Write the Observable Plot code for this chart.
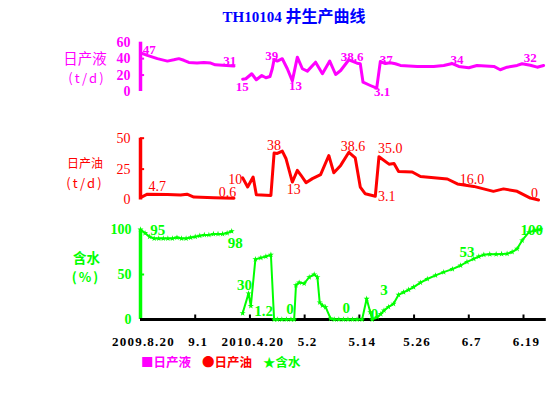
<!DOCTYPE html>
<html><head><meta charset="utf-8">
<script src="https://cdn.jsdelivr.net/npm/d3@7"></script>
<script src="https://cdn.jsdelivr.net/npm/@observablehq/plot@0.6"></script>
<style>
html,body{margin:0;padding:0;background:#fff;}
#wrap{position:relative;width:553px;height:417px;overflow:hidden;background:#fff;}
#wrap svg{position:absolute;left:0;top:0;}
.t{position:absolute;white-space:nowrap;transform:translate(-50%,-50%);line-height:1;}
g[aria-label="x-axis tick label"] text{letter-spacing:1.2px;}
g[aria-label="liq-labels"] text{letter-spacing:1.5px;}
g[aria-label="oil-labels"] text{letter-spacing:1px;}
</style></head><body><div id="wrap"></div>
<script>
// ---- data ----
const tickDays = [0, 12, 24, 36, 48, 60, 72, 84];
const tickLabels = ["2009.8.20", "9.1", "2010.4.20", "5.2", "5.14", "5.26", "6.7", "6.19"];

// daily liquid production (t/d): [day index, value]
const liquid = [[0,47],[1.5,44],[3.7,40],[5.9,37],[7.3,38.6],[8.4,40],[9.5,38],[10.6,35.4],[12.4,34.6],[13.9,35.4],[15.4,34.6],[16.4,32.5],[20.5,31],[21.5,NaN],
  [22.4,15],[23.1,15.5],[24.4,21.6],[25.4,14.3],[26.6,19.5],[27.5,16.7],[28.4,18.3],[28.9,27.7],[29.3,39],[30,37],[31.1,39.9],[32.2,27.7],[33.3,13],[34.4,41.8],[35.5,27.7],[36.6,24.8],[38.4,35.7],[39.9,21.6],[41.5,37],[42.8,20.7],[43.9,25.6],[45.7,38.6],[47.5,34.5],[48.2,33.8],[48.8,11.3],[50.4,7.3],[51.8,4],[52.6,36.5],[53.7,34],[54.8,35],[55.9,33.8],[57,31.7],[60.7,30.5],[64.3,30.5],[66.5,31.7],[68.4,34],[69.8,30.5],[72,28.9],[73.8,31.7],[77.5,30.5],[78.9,26.5],[80.4,29.6],[82.6,31.7],[83.7,33.8],[85.5,32],[87,29.6],[88.4,31.7]];

// daily oil production (t/d)
const oil = [[0,2],[1.5,4.7],[5.9,4.5],[8.8,4],[10.2,4.7],[11.7,2.4],[16.1,1.8],[20.5,1.5],[21.5,NaN],
  [22.4,18],[23.5,10.5],[24.7,18.6],[25.4,4.2],[28.6,3.7],[29.3,38],[30,37.7],[31.1,39.6],[31.9,33.6],[33.3,14.5],[34.4,24],[35.2,20],[36.3,14],[37.7,17.3],[39.5,20.6],[41.3,36],[42.4,22],[43.9,28],[45.7,38.6],[47.1,34],[48.2,10.5],[49.3,5],[51.5,3.1],[52.3,35],[54.5,29],[55.6,29.5],[56.6,23],[59.6,22.7],[61.4,19],[67.3,17],[69.5,13],[73.1,11],[77.4,7],[79.6,9],[82.6,7],[85.5,1.5],[87.3,0]];

// water cut (%)
const water = [[0,100],[1,96],[2,92],[3,90],[4,90],[5,90],[6,90],[7,90],[8,91],[9,90],[10,90],[11,91],[12,92],[13,93],[14,94],[15,94],[16,95],[17,95],[18,95],[19,96],[20,98],[21,NaN],
  [22.4,7],[23.7,29],[24.2,15],[25.2,67],[26.4,68.5],[27.5,70],[28.6,72],[29.3,0],[30,0],[31,0],[32,0],[33,0],[33.7,0],[34.1,38],[34.8,41],[35.9,40],[37,47],[38.1,50],[38.8,47],[39.3,19],[39.9,15.5],[40.6,13.7],[41.7,1],[42.5,0],[43.5,0],[44.5,0],[45.5,0],[46.5,0],[47.5,0],[48.6,0],[49.6,23],[50.4,8],[50.8,0],[51.9,2.6],[52.7,6],[53.4,10],[54.4,14],[55.5,17.4],[56.6,27.4],[57.7,30.3],[58.8,33],[59.9,36],[61.4,41],[62.9,45],[64.7,49],[66.5,52.6],[68.4,56],[70.2,60],[71.6,64],[73.1,67.4],[74.2,70],[75.3,72],[76.6,72.5],[78,72.5],[79.2,72.8],[80.4,73],[81.5,75],[82.6,78.5],[83.7,87.8],[85.2,97],[86.5,99],[87.7,100]];

const liqLabels = [
  {day:1.9,val:51.2,text:"47"},{day:19.6,val:37.8,text:"31"},{day:22.3,val:6.1,text:"15"},
  {day:28.8,val:43.3,text:"39"},{day:34.0,val:7.3,text:"13"},{day:46.4,val:42.7,text:"38.6"},
  {day:53.9,val:39.0,text:"37"},{day:53.0,val:-0.6,text:"3.1"},{day:69.4,val:39.0,text:"34"},
  {day:85.5,val:40.9,text:"32"}];
const oilLabels = [
  {day:3.7,val:11.0,text:"4.7"},{day:19.1,val:6.4,text:"0.6"},{day:20.8,val:16.7,text:"10"},
  {day:29.3,val:43.7,text:"38"},{day:33.6,val:8.4,text:"13"},{day:46.6,val:43.1,text:"38.6"},
  {day:54.8,val:41.4,text:"35.0"},{day:54.0,val:2.7,text:"3.1"},{day:72.7,val:16.6,text:"16.0"},
  {day:86.4,val:5.1,text:"0"}];
const waterLabels = [
  {day:3.8,val:99.2,text:"95"},{day:20.8,val:85.3,text:"98"},{day:22.8,val:37.8,text:"30"},
  {day:27.0,val:9.1,text:"1.2"},{day:32.8,val:11.3,text:"0"},{day:45.1,val:13,text:"0"},
  {day:51.3,val:6.3,text:"0"},{day:53.4,val:32.2,text:"3"},{day:71.6,val:75.3,text:"53"},
  {day:85.8,val:98.9,text:"100"}];

const liqTicks = [0, 20, 40, 60];
const oilTicks = [0, 25, 50];
const waterTicks = [0, 50, 100];

// ---- styling ----
const MAG = "#ff00ff", RED = "#ff0000", GRN = "#00ff00", BLU = "#0000ff";
const W = 553, H = 417, ML = 140, MR = 7.2, XMAX = 89;
const serif = "'Liberation Serif','Times New Roman',serif";
const cjk = "'Noto Sans CJK SC',sans-serif";
const X = d => d[0], Y = d => d[1];

function panel(top, bottom, ydom, xaxis, marks) {
  return Plot.plot({
    width: W, height: H, marginLeft: ML, marginRight: MR,
    marginTop: top, marginBottom: H - bottom,
    x: xaxis ? {domain: [0, XMAX]} : {domain: [0, XMAX], axis: null},
    y: {domain: ydom},
    style: {background: "transparent", overflow: "visible"},
    marks
  });
}

const p1 = panel(41.7, 91, [0, 60], false, [
  Plot.ruleX([0], {y1: 0, y2: 60, stroke: MAG, strokeWidth: 3.5}),
  Plot.ruleY([20, 40], {x1: 0, x2: 0.9, stroke: MAG, strokeWidth: 2}),
  Plot.axisY({ticks: liqTicks, tickSize: 0, tickPadding: 10, fill: MAG, stroke: MAG, fontSize: 14, fontWeight: "bold", fontFamily: serif, label: null}),
  Plot.line(liquid, {x: X, y: Y, stroke: MAG, strokeWidth: 3}),
  Plot.text(liqLabels, {x: "day", y: "val", text: "text", fill: MAG, fontSize: 13, fontWeight: "bold", fontFamily: serif, ariaLabel: "liq-labels"})
]);

const p2 = panel(137.7, 199.5, [0, 50], false, [
  Plot.ruleX([0], {y1: 0, y2: 50, stroke: RED, strokeWidth: 3.5}),
  Plot.ruleY([25, 50], {x1: 0, x2: 0.9, stroke: RED, strokeWidth: 2}),
  Plot.axisY({ticks: oilTicks, tickSize: 0, tickPadding: 10, fill: RED, stroke: RED, fontSize: 14, fontFamily: serif, label: null}),
  Plot.line(oil, {x: X, y: Y, stroke: RED, strokeWidth: 3}),
  Plot.text(oilLabels, {x: "day", y: "val", text: "text", fill: RED, fontSize: 14, fontFamily: serif, ariaLabel: "oil-labels"})
]);

const p3 = panel(229, 319, [0, 100], true, [
  Plot.ruleX([0], {y1: 0, y2: 100, stroke: GRN, strokeWidth: 3.5}),
  Plot.ruleY([50], {x1: 0, x2: 0.9, stroke: GRN, strokeWidth: 2}),
  Plot.axisY({ticks: waterTicks, tickSize: 0, tickPadding: 9, fill: GRN, stroke: GRN, fontSize: 14, fontWeight: "bold", fontFamily: serif, label: null}),
  Plot.ruleY([0], {stroke: "black", strokeWidth: 3}),
  Plot.ruleX(tickDays.slice(1), {y1: 0, y2: 5, stroke: "black", strokeWidth: 2}),
  Plot.axisX({ticks: tickDays, tickFormat: d => tickLabels[tickDays.indexOf(d)], tickSize: 0, tickPadding: 17, dx: 3, fill: "black", fontSize: 13, fontWeight: "bold", fontFamily: serif, label: null}),
  Plot.line(water, {x: X, y: Y, stroke: GRN, strokeWidth: 2}),
  Plot.dot(water, {x: X, y: Y, symbol: "star", r: 1.9, fill: GRN}),
  Plot.text(waterLabels, {x: "day", y: "val", text: "text", fill: GRN, fontSize: 15, fontWeight: "bold", fontFamily: serif})
]);

const wrap = document.getElementById("wrap");
wrap.append(p1, p2, p3);

function txt(html, x, y, style) {
  const d = document.createElement("div");
  d.className = "t";
  d.innerHTML = html;
  d.style.left = x + "px"; d.style.top = y + "px";
  Object.assign(d.style, style);
  wrap.append(d);
}
txt(`<span style="font-family:${serif};font-size:15px">TH10104</span> 井生产曲线`, 294, 15.5,
  {color: BLU, fontWeight: "bold", fontFamily: cjk, fontSize: "16px"});
txt("日产液", 85, 58, {color: MAG, fontFamily: cjk, fontSize: "14.5px"});
txt("(t/d)", 87, 76.5, {color: MAG, fontFamily: cjk, fontSize: "13px", letterSpacing: "2.2px"});
txt("日产油", 85, 162.5, {color: RED, fontFamily: cjk, fontSize: "12px"});
txt("(t/d)", 85, 182, {color: RED, fontFamily: cjk, fontSize: "13px", letterSpacing: "2.2px"});
txt("含水", 86.5, 257.5, {color: GRN, fontFamily: cjk, fontSize: "13.5px", fontWeight: "bold"});
txt("(%)", 86, 276, {color: GRN, fontFamily: cjk, fontSize: "13px", fontWeight: "bold", letterSpacing: "2px"});

// legend
const legend = document.createElement("div");
legend.style.cssText = `position:absolute;left:141px;top:354px;font-family:${cjk};font-size:12.5px;font-weight:bold;line-height:16px;white-space:nowrap;`;
legend.innerHTML = `<span style="color:${MAG}">■日产液</span><span style="color:${RED};margin-left:11px">●日产油</span><span style="color:${GRN};margin-left:11px">★含水</span>`;
wrap.append(legend);
</script></body></html>
